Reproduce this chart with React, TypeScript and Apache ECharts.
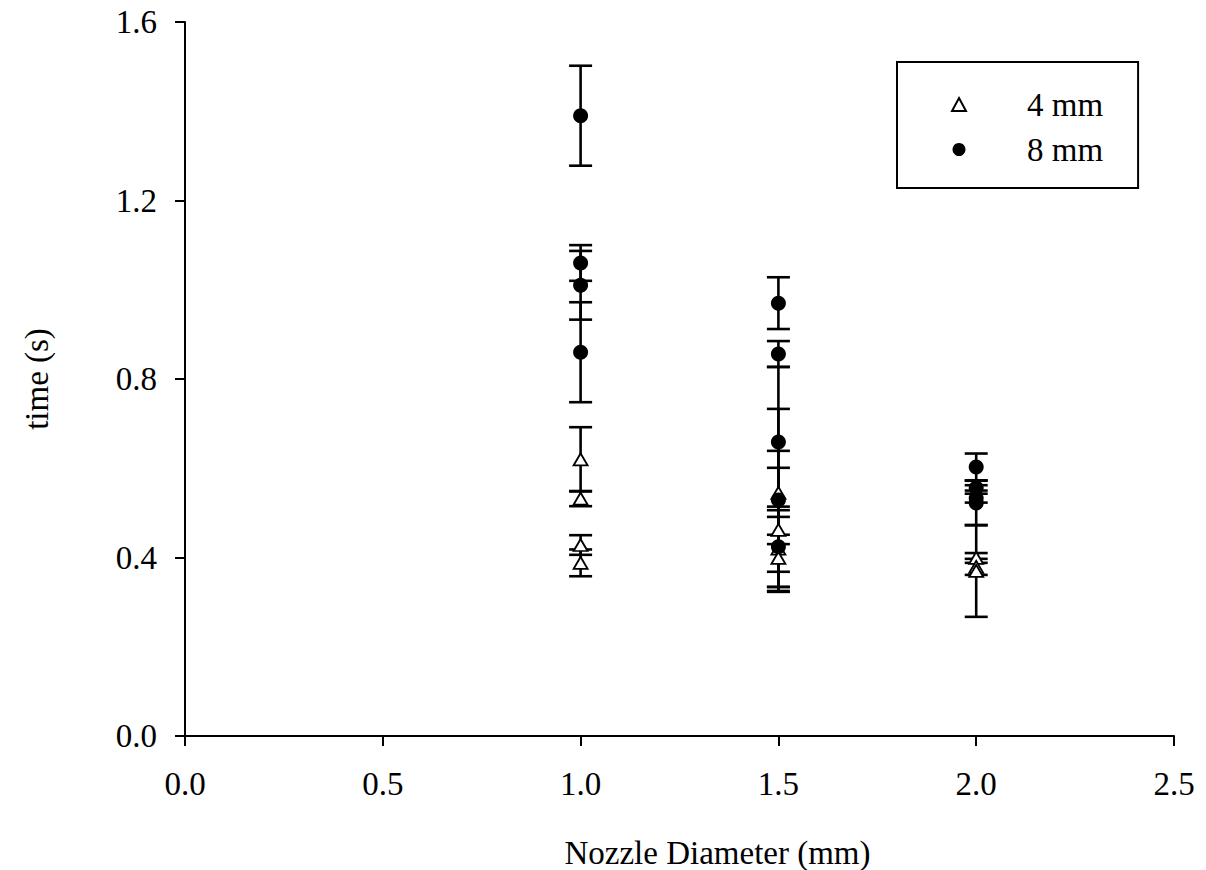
import React, { useEffect, useRef } from "react";
import * as echarts from "echarts";

const xTicks = [0, 0.5, 1.0, 1.5, 2.0, 2.5];
const yTicks = [0, 0.4, 0.8, 1.2, 1.6];

const mm4X = [1.0, 1.0, 1.0, 1.0, 1.5, 1.5, 1.5, 1.5, 2.0, 2.0, 2.0];
const mm4Y = [0.62, 0.532, 0.428, 0.388, 0.545, 0.462, 0.42, 0.399, 0.399, 0.379, 0.37];
const mm4Err = [0.072, 0.017, 0.022, 0.03, 0.094, 0.139, 0.086, 0.031, 0.011, 0.018, 0.103];

const mm8X = [1.0, 1.0, 1.0, 1.0, 1.5, 1.5, 1.5, 1.5, 1.5, 2.0, 2.0, 2.0, 2.0];
const mm8Y = [1.39, 1.06, 1.01, 0.86, 0.97, 0.856, 0.659, 0.529, 0.424, 0.603, 0.556, 0.533, 0.522];
const mm8Err = [0.112, 0.04, 0.077, 0.112, 0.058, 0.029, 0.168, 0.204, 0.09, 0.03, 0.006, 0.01, 0.05];

const FONT = "'Liberation Serif', 'Times New Roman', serif";
const FS = 33;

function errData(xs: number[], ys: number[], es: number[]) {
  return xs.map((x, i) => [x, ys[i] - es[i], ys[i] + es[i]]);
}

const renderErr = (params: any, api: any) => {
  const x = api.value(0);
  const lo = api.coord([x, api.value(1)]);
  const hi = api.coord([x, api.value(2)]);
  const hw = 11.5;
  const style = { stroke: "#000", lineWidth: 2.6 };
  return {
    type: "group",
    children: [
      { type: "line", shape: { x1: lo[0], y1: lo[1], x2: hi[0], y2: hi[1] }, style },
      { type: "line", shape: { x1: lo[0] - hw, y1: lo[1], x2: lo[0] + hw, y2: lo[1] }, style },
      { type: "line", shape: { x1: hi[0] - hw, y1: hi[1], x2: hi[0] + hw, y2: hi[1] }, style },
    ],
  };
};

export default function App() {
  const ref = useRef<HTMLDivElement>(null);
  useEffect(() => {
    document.body.style.margin = "0";
    const chart = echarts.init(ref.current!, undefined, { renderer: "svg" });
    const axisCommon = {
      axisLine: { show: true, lineStyle: { color: "#000", width: 2 } },
      axisTick: { show: true, inside: false, length: 10, lineStyle: { color: "#000", width: 2 } },
      splitLine: { show: false },
    };
    chart.setOption({
      animation: false,
      backgroundColor: "#fff",
      textStyle: { fontFamily: FONT },
      grid: { left: 185, right: 32, top: 22, bottom: 134, outerBoundsMode: "none" },
      legend: {
        left: 897,
        top: 62,
        orient: "vertical",
        data: ["4 mm", "8 mm"],
        borderColor: "#000",
        borderWidth: 2,
        padding: [26, 35, 22, 54],
        itemGap: 12,
        itemWidth: 14,
        itemHeight: 13,
        textStyle: { fontFamily: FONT, fontSize: FS, color: "#000", lineHeight: 33, padding: [0, 0, 0, 56] },
      },
      xAxis: {
        type: "value",
        min: 0,
        max: 2.5,
        interval: 0.5,
        name: "Nozzle Diameter (mm)",
        nameLocation: "middle",
        nameGap: 100,
        nameTextStyle: { fontFamily: FONT, fontSize: FS, color: "#000", padding: [0, 0, 0, 76] },
        ...axisCommon,
        axisLabel: {
          fontFamily: FONT,
          fontSize: FS,
          color: "#000",
          margin: 31,
          formatter: (v: number) => (xTicks.includes(v) ? v.toFixed(1) : ""),
        },
      },
      yAxis: {
        type: "value",
        min: 0,
        max: 1.6,
        interval: 0.4,
        name: "time (s)",
        nameLocation: "middle",
        nameGap: 132,
        nameTextStyle: { fontFamily: FONT, fontSize: FS, color: "#000" },
        ...axisCommon,
        axisLabel: {
          fontFamily: FONT,
          fontSize: FS,
          color: "#000",
          margin: 28,
          formatter: (v: number) => {
            const m = yTicks.find((t) => Math.abs(t - v) < 1e-6);
            return m !== undefined ? m.toFixed(1) : "";
          },
        },
      },
      series: [
        {
          type: "custom",
          name: "err4",
          renderItem: renderErr,
          data: errData(mm4X, mm4Y, mm4Err),
          z: 1,
          silent: true,
        },
        {
          type: "custom",
          name: "err8",
          renderItem: renderErr,
          data: errData(mm8X, mm8Y, mm8Err),
          z: 1,
          silent: true,
        },
        {
          type: "scatter",
          name: "4 mm",
          symbol: "triangle",
          symbolSize: [14, 12],
          itemStyle: { color: "#fff", borderColor: "#000", borderWidth: 1.8, opacity: 1 },
          data: mm4X.map((x, i) => [x, mm4Y[i]]),
          z: 3,
        },
        {
          type: "scatter",
          name: "8 mm",
          symbol: "circle",
          symbolSize: 15,
          itemStyle: { color: "#000", opacity: 1 },
          data: mm8X.map((x, i) => [x, mm8Y[i]]),
          z: 4,
        },
      ],
    });
    return () => chart.dispose();
  }, []);
  return <div ref={ref} style={{ width: 1206, height: 870 }} />;
}
